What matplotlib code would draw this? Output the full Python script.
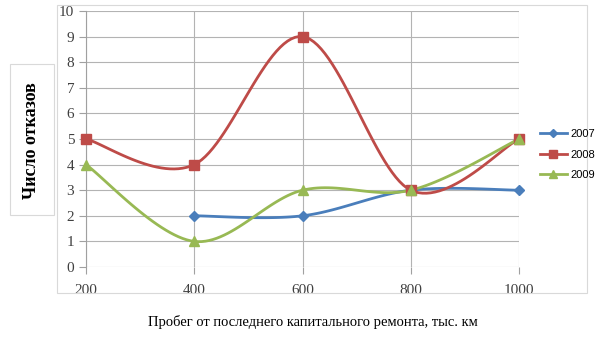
import numpy as np
import matplotlib
matplotlib.use("Agg")
import matplotlib.pyplot as plt
from matplotlib.patches import Rectangle
from matplotlib.lines import Line2D

categories = [200, 400, 600, 800, 1000]
s2007 = [np.nan, 2, 2, 3, 3]
s2008 = [5, 4, 9, 3, 5]
s2009 = [4, 1, 3, 3, 5]
series_names = ["2007", "2008", "2009"]
colors = ["#4A7EBB", "#BE4B48", "#98B954"]
markers = ["D", "s", "^"]
msizes = [5, 6.5, 7]

W, H = 599, 352
fig = plt.figure(figsize=(W / 100, H / 100), dpi=100)
serif = "Liberation Serif"

def px(x0, y0, x1, y1):
    return [x0 / W, 1 - y1 / H, (x1 - x0) / W, (y1 - y0) / H]

# chart area border
fig.patches.append(Rectangle((57 / W, 1 - 293 / H), (587 - 57) / W, (293 - 5) / H,
                             transform=fig.transFigure, fill=False,
                             edgecolor="#D9D9D9", lw=0.8))
# y label box
fig.patches.append(Rectangle((10 / W, 1 - 215 / H), 44 / W, 151 / H,
                             transform=fig.transFigure, fill=False,
                             edgecolor="#D9D9D9", lw=0.8))
fig.text(32 / W, 1 - 141 / H, "Число отказов", rotation=90, ha="center", va="center",
         family=serif, fontweight="bold", fontsize=13)
fig.text(313 / W, 1 - 322 / H, "Пробег от последнего капитального ремонта, тыс. км",
         ha="center", va="center", family=serif, fontsize=10.5)

ax = fig.add_axes(px(86, 11, 519, 267))

def smooth(xs, ys, n=30):
    xs = np.asarray(xs, float); ys = np.asarray(ys, float)
    m = ~np.isnan(ys)
    xs, ys = xs[m], ys[m]
    P = np.column_stack([xs, ys])
    out = [P[0]]
    k = len(P)
    for i in range(k - 1):
        p0 = P[i - 1] if i > 0 else P[i]
        p1 = P[i]; p2 = P[i + 1]
        p3 = P[i + 2] if i + 2 < k else P[i + 1]
        c1 = p1 + (p2 - p0) / 6
        c2 = p2 - (p3 - p1) / 6
        t = np.linspace(0, 1, n)[1:, None]
        b = ((1 - t) ** 3) * p1 + 3 * ((1 - t) ** 2) * t * c1 + 3 * (1 - t) * t ** 2 * c2 + t ** 3 * p2
        out.extend(b)
    out = np.array(out)
    return out[:, 0], out[:, 1]

for vals, name, c, mk, ms in zip([s2007, s2008, s2009], series_names, colors, markers, msizes):
    sx, sy = smooth(categories, vals)
    ax.plot(sx, sy, color=c, lw=2, zorder=3, clip_on=False)
    ax.plot(categories, vals, ls="none", marker=mk, color=c, ms=ms, zorder=4, clip_on=False)

ax.set_xlim(200, 1000)
ax.set_ylim(0, 10)
ax.set_xticks(categories)
ax.set_xticklabels([str(c) for c in categories])
ax.set_yticks(range(0, 11))
ax.grid(True, color="#B3B3B3", lw=0.8)
ax.set_axisbelow(True)
for s in ["top", "right", "bottom"]:
    ax.spines[s].set_visible(False)
ax.spines["left"].set_color("#A0A0A0")
ax.spines["left"].set_linewidth(0.8)
ax.tick_params(axis="both", colors="#A0A0A0", length=5, width=0.8, labelcolor="#404040",
               labelsize=11)
ax.tick_params(axis="x", pad=7)
for lab in ax.get_xticklabels() + ax.get_yticklabels():
    lab.set_family(serif)

handles = [Line2D([], [], color=c, lw=2, marker=mk, ms=ms * 0.9) for c, mk, ms in zip(colors, markers, msizes)]
fig.legend(handles, series_names, loc="upper left", bbox_to_anchor=(530 / W, 1 - 119 / H),
           frameon=False, prop={"family": "Liberation Sans", "size": 8},
           handlelength=2.4, labelspacing=0.95, handletextpad=0.3)

fig.savefig("out.png", dpi=100)
